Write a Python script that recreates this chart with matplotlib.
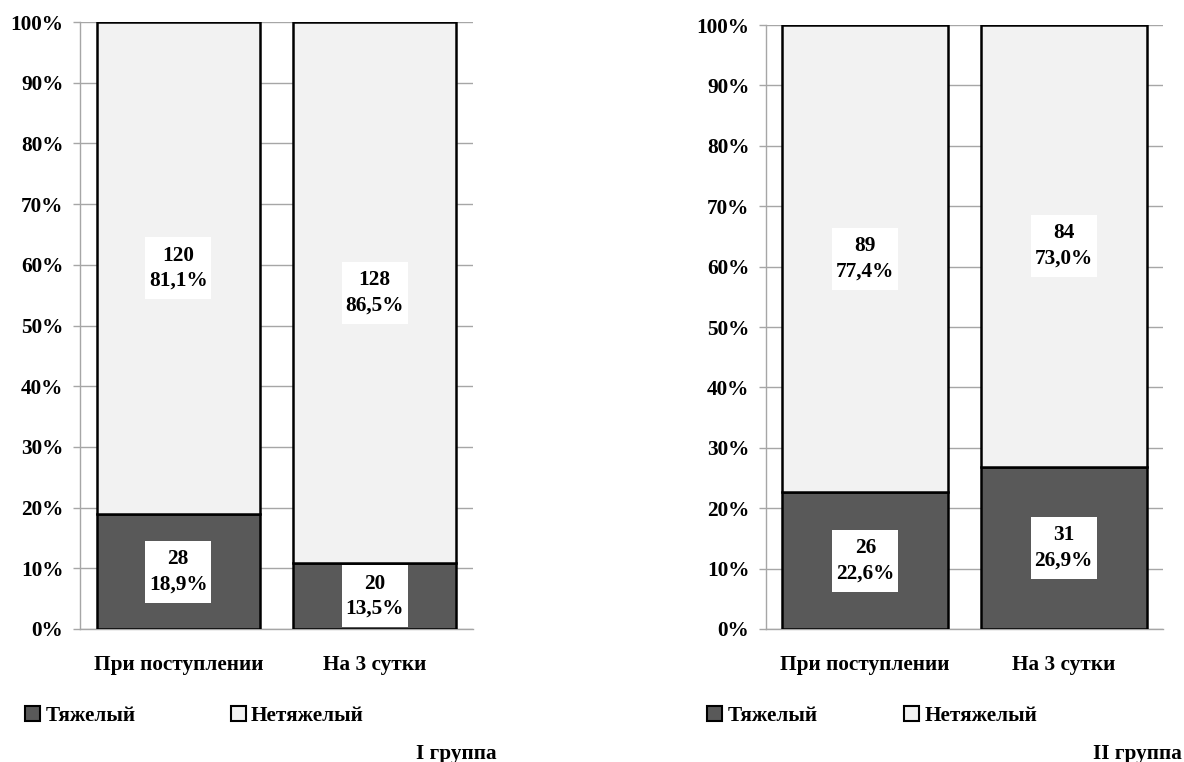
import matplotlib
matplotlib.use("Agg")
import matplotlib.pyplot as plt
from matplotlib.patches import Patch

plt.rcParams['font.family'] = ['Liberation Serif', 'DejaVu Serif']
plt.rcParams['font.weight'] = 'bold'

categories = ['При поступлении', 'На 3 сутки']
series_names = ['Тяжелый', 'Нетяжелый']

# group I: bar heights (%) as drawn, and the printed labels
heavy_1 = [18.9, 10.8]
heavy_cnt_1 = [28, 20]
heavy_lbl_1 = ['18,9%', '13,5%']
light_cnt_1 = [120, 128]
light_lbl_1 = ['81,1%', '86,5%']

# group II
heavy_2 = [22.6, 26.9]
heavy_cnt_2 = [26, 31]
heavy_lbl_2 = ['22,6%', '26,9%']
light_cnt_2 = [89, 84]
light_lbl_2 = ['77,4%', '73,0%']

titles = ['I группа', 'II группа']

dark = '#595959'
light = '#f2f2f2'
grid_c = '#a6a6a6'
fs = 15.3
W, H = 1184, 762

fig = plt.figure(figsize=(W / 100, H / 100), dpi=100)

label_box = dict(boxstyle='square,pad=0.18', facecolor='white', edgecolor='none',
                 mutation_aspect=2.2)


def draw(rect, heavy, hc, hl, lc, ll, width):
    ax = fig.add_axes(rect)
    x = range(len(categories))
    rest = [100 - h for h in heavy]
    ax.bar(x, heavy, width=width, color=dark, edgecolor='black', linewidth=1.8, zorder=3)
    ax.bar(x, rest, bottom=heavy, width=width, color=light, edgecolor='black', linewidth=1.8, zorder=3)
    for i in x:
        ax.text(i, heavy[i] / 2, f'{hc[i]}\n{hl[i]}', ha='center', va='center', fontsize=fs,
                fontweight='bold', linespacing=1.35, zorder=5, bbox=label_box)
        ax.text(i, heavy[i] + rest[i] / 2, f'{lc[i]}\n{ll[i]}', ha='center', va='center', fontsize=fs,
                fontweight='bold', linespacing=1.35, zorder=5, bbox=label_box)
    ax.set_xlim(-0.5, len(categories) - 0.5)
    ax.set_ylim(0, 100)
    ax.set_yticks(range(0, 101, 10))
    ax.set_yticklabels([f'{v}%' for v in range(0, 101, 10)], fontsize=fs, fontweight='bold')
    ax.set_xticks(list(x))
    ax.set_xticklabels(categories, fontsize=fs, fontweight='bold')
    ax.tick_params(axis='x', length=0, pad=19)
    ax.tick_params(axis='y', length=5, width=1, color=grid_c, pad=7)
    ax.yaxis.grid(True, color=grid_c, linewidth=1, zorder=0)
    ax.set_axisbelow(True)
    for s in ['top', 'right']:
        ax.spines[s].set_visible(False)
    for s in ['left', 'bottom']:
        ax.spines[s].set_color(grid_c)
        ax.spines[s].set_linewidth(1)
    return ax


ax1 = draw([80 / W, 1 - 629 / H, 393 / W, 607 / H], heavy_1, heavy_cnt_1, heavy_lbl_1,
           light_cnt_1, light_lbl_1, 0.83)
ax2 = draw([766 / W, 1 - 629 / H, 397 / W, 604 / H], heavy_2, heavy_cnt_2, heavy_lbl_2,
           light_cnt_2, light_lbl_2, 0.835)

handles = [Patch(facecolor=dark, edgecolor='black', linewidth=1.5),
           Patch(facecolor=light, edgecolor='black', linewidth=1.5)]

for ax, x0, cs in [(ax1, 25, 4.5), (ax2, 707, 4.1)]:
    ax.legend(handles, series_names, loc='center left', bbox_to_anchor=(x0 / W, 1 - 716 / H),
              bbox_transform=fig.transFigure, ncol=2, frameon=False,
              handlelength=0.7, handleheight=0.7, handletextpad=0.25, columnspacing=cs,
              borderpad=0, borderaxespad=0, prop={'weight': 'bold', 'size': fs})

fig.text(497 / W, 1 - 754 / H, titles[0], ha='right', va='center', fontsize=fs, fontweight='bold')
fig.text(1182 / W, 1 - 754 / H, titles[1], ha='right', va='center', fontsize=fs, fontweight='bold')

fig.savefig('out.png', dpi=100, facecolor='white')
